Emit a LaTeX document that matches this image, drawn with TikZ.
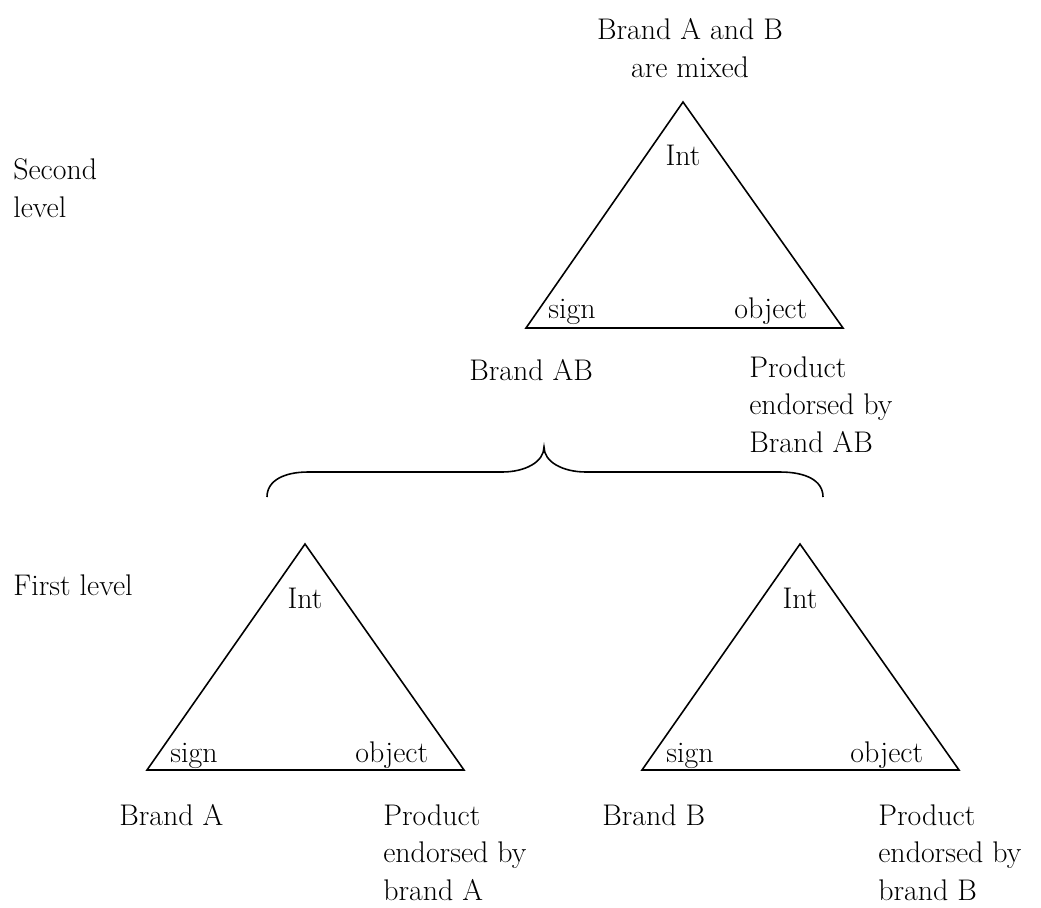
\documentclass[tikz,border=0pt]{standalone}
\usepackage{fontspec}
\begin{document}
\begin{tikzpicture}[x=0.02cm,y=-0.02cm,
	tri_line/.style={draw,line width=0.9pt,line join=miter},
	text_node/.style={inner sep=0pt,font=\fontsize{17}{21.5}\selectfont},
	block_node/.style={inner sep=0pt,align=left,anchor=north west,font=\fontsize{17}{21.5}\selectfont}]
		\useasboundingbox (0,0) rectangle (1041,907);
		
		% second level
		\coordinate (t_top) at (683,102);
		\coordinate (t_sign) at (526,328);
		\coordinate (t_obj) at (843,328);
		\draw[tri_line] (t_top) -- (t_sign) -- (t_obj) -- cycle;
		
		\node[text_node,align=center,anchor=north] (mixed) at (690,18) {Brand A and B\\are mixed};
		\node[text_node,anchor=base] (t_int) at (683,165) {Int};
		\node[text_node,anchor=base west] (t_sign_lbl) at (548,318) {sign};
		\node[text_node,anchor=base west] (t_obj_lbl) at (734,318) {object};
		\node[text_node,anchor=base west] (brand_ab) at (469,380) {Brand AB};
		\node[block_node] (prod_ab) at (749,356) {Product\\endorsed by\\Brand AB};
		\node[block_node] (second) at (13,158) {Second\\level};
		
		% brace
		\coordinate (br_l) at (267,497);
		\coordinate (br_tip) at (544,447);
		\coordinate (br_r) at (823,497);
		\draw[line width=0.9pt] (br_l) .. controls (267,480) and (285,472) .. (308,472) -- (502,472)
			.. controls (525,472) and (544,462) .. (br_tip)
			.. controls (544,462) and (563,472) .. (586,472) -- (780,472)
			.. controls (805,472) and (823,480) .. (br_r);
		
		% first level
		\node[text_node,anchor=base west] (first) at (13,595) {First level};
		
		\coordinate (a_top) at (305,544);
		\coordinate (a_sign) at (147,770);
		\coordinate (a_obj) at (464,770);
		\draw[tri_line] (a_top) -- (a_sign) -- (a_obj) -- cycle;
		\node[text_node,anchor=base] (a_int) at (305,608) {Int};
		\node[text_node,anchor=base west] (a_sign_lbl) at (170,762) {sign};
		\node[text_node,anchor=base west] (a_obj_lbl) at (355,762) {object};
		\node[text_node,anchor=base west] (brand_a) at (119,825) {Brand A};
		\node[block_node] (prod_a) at (383,804) {Product\\endorsed by\\brand A};
		
		\coordinate (b_top) at (800,544);
		\coordinate (b_sign) at (642,770);
		\coordinate (b_obj) at (959,770);
		\draw[tri_line] (b_top) -- (b_sign) -- (b_obj) -- cycle;
		\node[text_node,anchor=base] (b_int) at (800,608) {Int};
		\node[text_node,anchor=base west] (b_sign_lbl) at (666,762) {sign};
		\node[text_node,anchor=base west] (b_obj_lbl) at (850,762) {object};
		\node[text_node,anchor=base west] (brand_b) at (602,825) {Brand B};
		\node[block_node] (prod_b) at (878,804) {Product\\endorsed by\\brand B};
\end{tikzpicture}
\end{document}
